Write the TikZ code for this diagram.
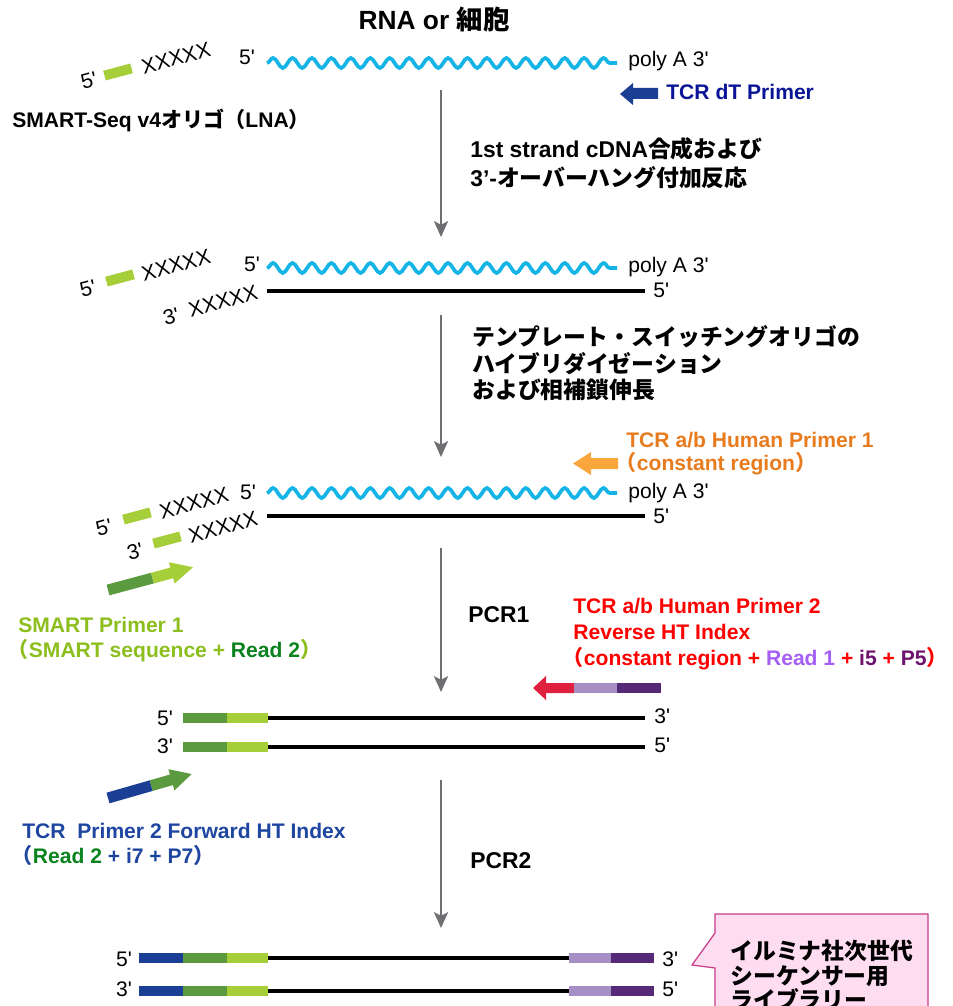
\documentclass[tikz,border=0pt]{standalone}
\usepackage{fontspec}
\newfontfamily\arial{Liberation Sans}
\newfontfamily\jp{Noto Sans CJK JP}
\newcommand\jtxt[1]{{\jp #1}}
\usetikzlibrary{arrows.meta,decorations.pathmorphing}
\definecolor{rnablue}{RGB}{20,180,230}
\definecolor{smartlt}{RGB}{166,206,57}
\definecolor{smartdk}{RGB}{91,154,62}
\definecolor{idxblue}{RGB}{27,63,148}
\definecolor{rdlt}{RGB}{166,143,196}
\definecolor{rddk}{RGB}{85,40,120}
\definecolor{prred}{RGB}{224,32,63}
\definecolor{prorange}{RGB}{249,166,60}
\definecolor{txorange}{RGB}{232,123,30}
\definecolor{txred}{RGB}{255,0,0}
\definecolor{txpurple}{RGB}{165,95,245}
\definecolor{txplum}{RGB}{110,20,110}
\definecolor{txnavy}{RGB}{10,20,150}
\definecolor{txblue}{RGB}{30,70,160}
\definecolor{txlime}{RGB}{140,190,30}
\definecolor{txgreen}{RGB}{10,130,30}
\definecolor{flowgray}{RGB}{110,110,115}
\definecolor{callfill}{RGB}{255,221,240}
\definecolor{callline}{RGB}{200,60,140}
\begin{document}
\begin{tikzpicture}[x=0.02cm, y=-0.02cm,
  lab/.style={font=\arial\fontsize{12}{14}\selectfont, inner sep=0pt},
  txt/.style={font=\arial\bfseries\fontsize{12}{14}\selectfont, inner sep=0pt, align=left},
  stage/.style={txt, font=\arial\bfseries\fontsize{13}{16}\selectfont, anchor=north west},
  rna/.style={draw=rnablue, line width=2.1pt, decorate,
    decoration={snake, segment length=0.38889cm, amplitude=0.1cm}},
  dna/.style={line width=2.2pt},
  flow/.style={draw=flowgray, line width=1.2pt, -{Stealth[length=9pt, width=8pt, inset=2pt]}},
  obar/.style={fill=smartlt, minimum width=0.56cm, minimum height=0.2cm, inner sep=0pt, rotate=15},
  oligo/.style={lab, rotate=15},
]
\useasboundingbox (0,0) rectangle (952,1006);
\clip (0,0) rectangle (952,1006);

\node[txt, font=\arial\bfseries\fontsize{15}{18}\selectfont, anchor=base] (T) at (434,30) {RNA or \jtxt{細胞}};

% RNA + oligo
\node[oligo] (P1) at (89,81) {5'};
\node[obar] (B1) at (118,72) {};
\node[oligo] (X1) at (176,58) {XXXXX};
\node[lab, anchor=base] (F1) at (247,65) {5'};
\draw[rna] (267,63) -- (617,63);
\node[lab, anchor=base west] (A1) at (628,67) {poly A 3'};
\node[txt, anchor=base west] (S1) at (12,128) {SMART-Seq v4\jtxt{オリゴ（}LNA\jtxt{）}};
\fill[idxblue] (658,88) -- (633,88) -- (633,83) -- (620,94) -- (633,105) -- (633,99) -- (658,99) -- cycle;
\node[txt, txnavy, anchor=base west] (D1) at (666,100) {TCR dT Primer};

\coordinate (a1) at (441,90);
\coordinate (a2) at (441,237);
\draw[flow] (a1) -- (a2);
\node[stage, font=\arial\bfseries\fontsize{13}{16.4}\selectfont] (L1) at (470,137) {1st strand cDNA\jtxt{合成および}\\3’-\jtxt{オーバーハング付加反応}};

% 1st strand
\node[oligo] (P2) at (88,289) {5'};
\node[obar] (B2) at (120,278) {};
\node[oligo] (X2) at (176,265) {XXXXX};
\node[lab, anchor=base] (F2) at (252,272) {5'};
\draw[rna] (267,268) -- (617,268);
\node[lab, anchor=base west] (A2) at (628,273) {poly A 3'};
\draw[dna] (267,291) -- (645,291);
\node[lab, anchor=base west] (E2) at (653,298) {5'};
\node[oligo] (Q2) at (171,316) {3'};
\node[oligo] (Y2) at (223,301) {XXXXX};

\coordinate (a3) at (441,315);
\coordinate (a4) at (441,457);
\draw[flow] (a3) -- (a4);
\node[stage, font=\arial\bfseries\fontsize{13}{15.2}\selectfont] (L2) at (472,325) {\jtxt{テンプレート・スイッチングオリゴの}\\\jtxt{ハイブリダイゼーション}\\\jtxt{および相補鎖伸長}};

% template switch
\node[oligo] (P3) at (104,528) {5'};
\node[obar] (B3) at (137,516) {};
\node[oligo] (X3) at (194,503) {XXXXX};
\node[lab, anchor=base] (F3) at (248,499) {5'};
\draw[rna] (267,493) -- (617,493);
\node[lab, anchor=base west] (A3) at (628,498) {poly A 3'};
\draw[dna] (267,516) -- (645,516);
\node[lab, anchor=base west] (E3) at (653,523) {5'};
\node[oligo] (Q3) at (135,551) {3'};
\node[obar] (C3) at (167,540) {};
\node[oligo] (Y3) at (223,527) {XXXXX};
\fill[prorange] (618,458) -- (591,458) -- (591,452) -- (573,463.5) -- (591,475) -- (591,469) -- (618,469) -- cycle;
\node[txt, txorange, font=\arial\bfseries\fontsize{12}{12.8}\selectfont, anchor=north west] (O1) at (626,432) {TCR a/b Human Primer 1\\\hspace*{-.5em}\jtxt{（}constant region\jtxt{）}};
\begin{scope}[shift={(108,590)}, rotate=15]
\fill[smartdk] (0,-5.5) rectangle (46,5.5);
\fill[smartlt] (46,-5.5) -- (66,-5.5) -- (66,-11) -- (88,0) -- (66,11) -- (66,5.5) -- (46,5.5) -- cycle;
\end{scope}
\node[txt, txlime, font=\arial\bfseries\fontsize{12}{14.2}\selectfont, anchor=north west] (M1) at (18,617) {SMART Primer 1\\\hspace*{-.5em}\jtxt{（}SMART sequence + \textcolor{txgreen}{Read 2}\jtxt{）}};

\coordinate (a5) at (441,548);
\coordinate (a6) at (441,692);
\draw[flow] (a5) -- (a6);
\node[txt, font=\arial\bfseries\fontsize{13}{16}\selectfont, anchor=base west] (K1) at (468,622) {PCR1};
\fill[prred] (574,683) -- (546,683) -- (546,676) -- (533,688) -- (546,700) -- (546,693) -- (574,693) -- cycle;
\fill[rdlt] (574,683) rectangle (617,693);
\fill[rddk] (617,683) rectangle (661,693);
\node[txt, txred, font=\arial\bfseries\fontsize{12}{14.7}\selectfont, anchor=north west] (R1) at (573,598) {TCR a/b Human Primer 2\\Reverse HT Index\\\hspace*{-.5em}\jtxt{（}constant region + \textcolor{txpurple}{Read 1} + \textcolor{txplum}{i5} + \textcolor{txplum}{P5}\jtxt{）}};

% PCR1 product
\node[lab, anchor=base] (P4) at (165,725) {5'};
\fill[smartdk] (183,713) rectangle (227,723);
\fill[smartlt] (227,713) rectangle (268,723);
\draw[dna] (268,718) -- (645,718);
\node[lab, anchor=base west] (E4) at (654,723) {3'};
\node[lab, anchor=base] (Q4) at (165,753) {3'};
\fill[smartdk] (183,742) rectangle (227,752);
\fill[smartlt] (227,742) rectangle (268,752);
\draw[dna] (268,747) -- (645,747);
\node[lab, anchor=base west] (G4) at (654,752) {5'};
\begin{scope}[shift={(108,798)}, rotate=16]
\fill[idxblue] (0,-5.5) rectangle (45,5.5);
\fill[smartdk] (45,-5.5) -- (66,-5.5) -- (66,-11) -- (87,0) -- (66,11) -- (66,5.5) -- (45,5.5) -- cycle;
\end{scope}
\node[txt, txblue, font=\arial\bfseries\fontsize{12}{14.2}\selectfont, anchor=north west] (N1) at (22,823) {TCR\ \ Primer 2 Forward HT Index\\\hspace*{-.5em}\jtxt{（}\textcolor{txgreen}{Read 2} + i7 + P7\jtxt{）}};

\coordinate (a7) at (441,780);
\coordinate (a8) at (441,928);
\draw[flow] (a7) -- (a8);
\node[txt, font=\arial\bfseries\fontsize{13}{16}\selectfont, anchor=base west] (K2) at (470,868) {PCR2};

% library
\node[lab, anchor=base] (P5) at (124,966) {5'};
\fill[idxblue] (139,953) rectangle (183,963);
\fill[smartdk] (183,953) rectangle (227,963);
\fill[smartlt] (227,953) rectangle (268,963);
\draw[dna] (268,958) -- (569,958);
\fill[rdlt] (569,953) rectangle (611,963);
\fill[rddk] (611,953) rectangle (654,963);
\node[lab, anchor=base west] (E5) at (662,966) {3'};
\node[lab, anchor=base] (Q5) at (124,996) {3'};
\fill[idxblue] (139,986) rectangle (183,996);
\fill[smartdk] (183,986) rectangle (227,996);
\fill[smartlt] (227,986) rectangle (268,996);
\draw[dna] (268,991) -- (569,991);
\fill[rdlt] (569,986) rectangle (611,996);
\fill[rddk] (611,986) rectangle (654,996);
\node[lab, anchor=base west] (G5) at (662,996) {5'};

\filldraw[fill=callfill, draw=callline, line width=0.7pt] (715,914) -- (928,914) -- (928,1020) -- (715,1020) -- (715,968) -- (692,965) -- (715,933) -- cycle;
\node[txt, font=\jp\bfseries\fontsize{13}{13.9}\selectfont, anchor=north west] (U1) at (730,940) {イルミナ社次世代\\シーケンサー用\\ライブラリー};
\end{tikzpicture}
\end{document}
